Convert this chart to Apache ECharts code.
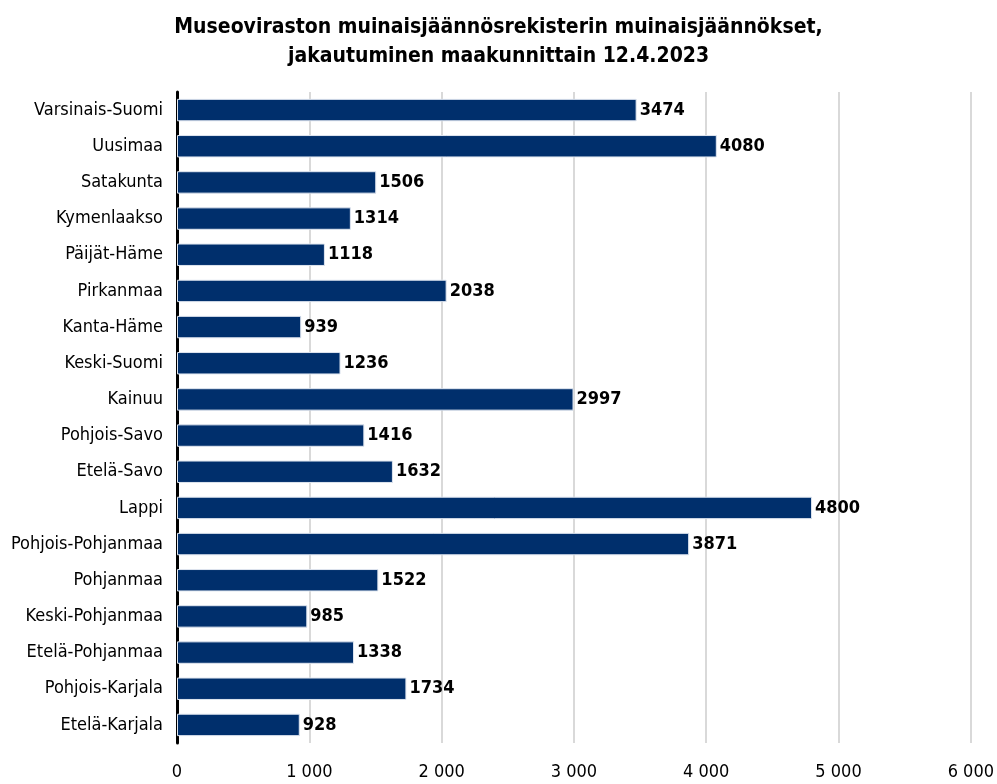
<!DOCTYPE html>
<html>
<head>
<meta charset="utf-8">
<script src="https://cdn.jsdelivr.net/npm/echarts@6/dist/echarts.min.js"></script>
<style>
  html, body { margin: 0; padding: 0; background: #fff; }
  #chart { width: 997px; height: 784px; }
</style>
</head>
<body>
<div id="chart"></div>
<script>
// maakunnat ylhäältä alas
var regions = ['Varsinais-Suomi', 'Uusimaa', 'Satakunta', 'Kymenlaakso', 'Päijät-Häme',
  'Pirkanmaa', 'Kanta-Häme', 'Keski-Suomi', 'Kainuu', 'Pohjois-Savo', 'Etelä-Savo',
  'Lappi', 'Pohjois-Pohjanmaa', 'Pohjanmaa', 'Keski-Pohjanmaa', 'Etelä-Pohjanmaa',
  'Pohjois-Karjala', 'Etelä-Karjala'];
var counts = [3474, 4080, 1506, 1314, 1118, 2038, 939, 1236, 2997, 1416, 1632,
  4800, 3871, 1522, 985, 1338, 1734, 928];
var xTicks = [0, 1000, 2000, 3000, 4000, 5000, 6000];

var font = '"Liberation Sans Narrow", "DejaVu Sans Condensed", sans-serif';

var chart = echarts.init(document.getElementById('chart'));
chart.setOption({
  animation: false,
  title: {
    text: 'Museoviraston muinaisjäännösrekisterin muinaisjäännökset,\njakautuminen maakunnittain 12.4.2023',
    left: 'center',
    top: 8,
    textStyle: {
      fontFamily: font,
      fontSize: 21,
      fontWeight: 'bold',
      color: '#000',
      lineHeight: 29
    }
  },
  grid: { left: 177, right: 25, top: 92, bottom: 41 },
  xAxis: {
    type: 'value',
    min: xTicks[0],
    max: xTicks[xTicks.length - 1],
    interval: 1000,
    axisLine: { show: false },
    axisTick: { show: false },
    splitLine: { lineStyle: { color: '#d9d9d9', width: 2 } },
    axisLabel: {
      margin: 20,
      fontFamily: font,
      fontSize: 18,
      color: '#000',
      formatter: function (v) {
        return String(v).replace(/\B(?=(\d{3})+(?!\d))/g, ' ');
      }
    }
  },
  yAxis: {
    type: 'category',
    data: regions,
    inverse: true,
    axisLine: { lineStyle: { color: '#000', width: 3 } },
    axisTick: { show: false },
    axisLabel: {
      margin: 14,
      fontFamily: font,
      fontSize: 18,
      color: '#000'
    }
  },
  series: [{
    type: 'bar',
    data: counts,
    barCategoryGap: '38%',
    itemStyle: { color: '#002f6c', borderColor: '#dfe6f0', borderWidth: 1 },
    label: {
      show: true,
      position: 'right',
      distance: 3,
      fontFamily: font,
      fontSize: 18,
      fontWeight: 'bold',
      color: '#000'
    }
  }]
});
</script>
</body>
</html>
